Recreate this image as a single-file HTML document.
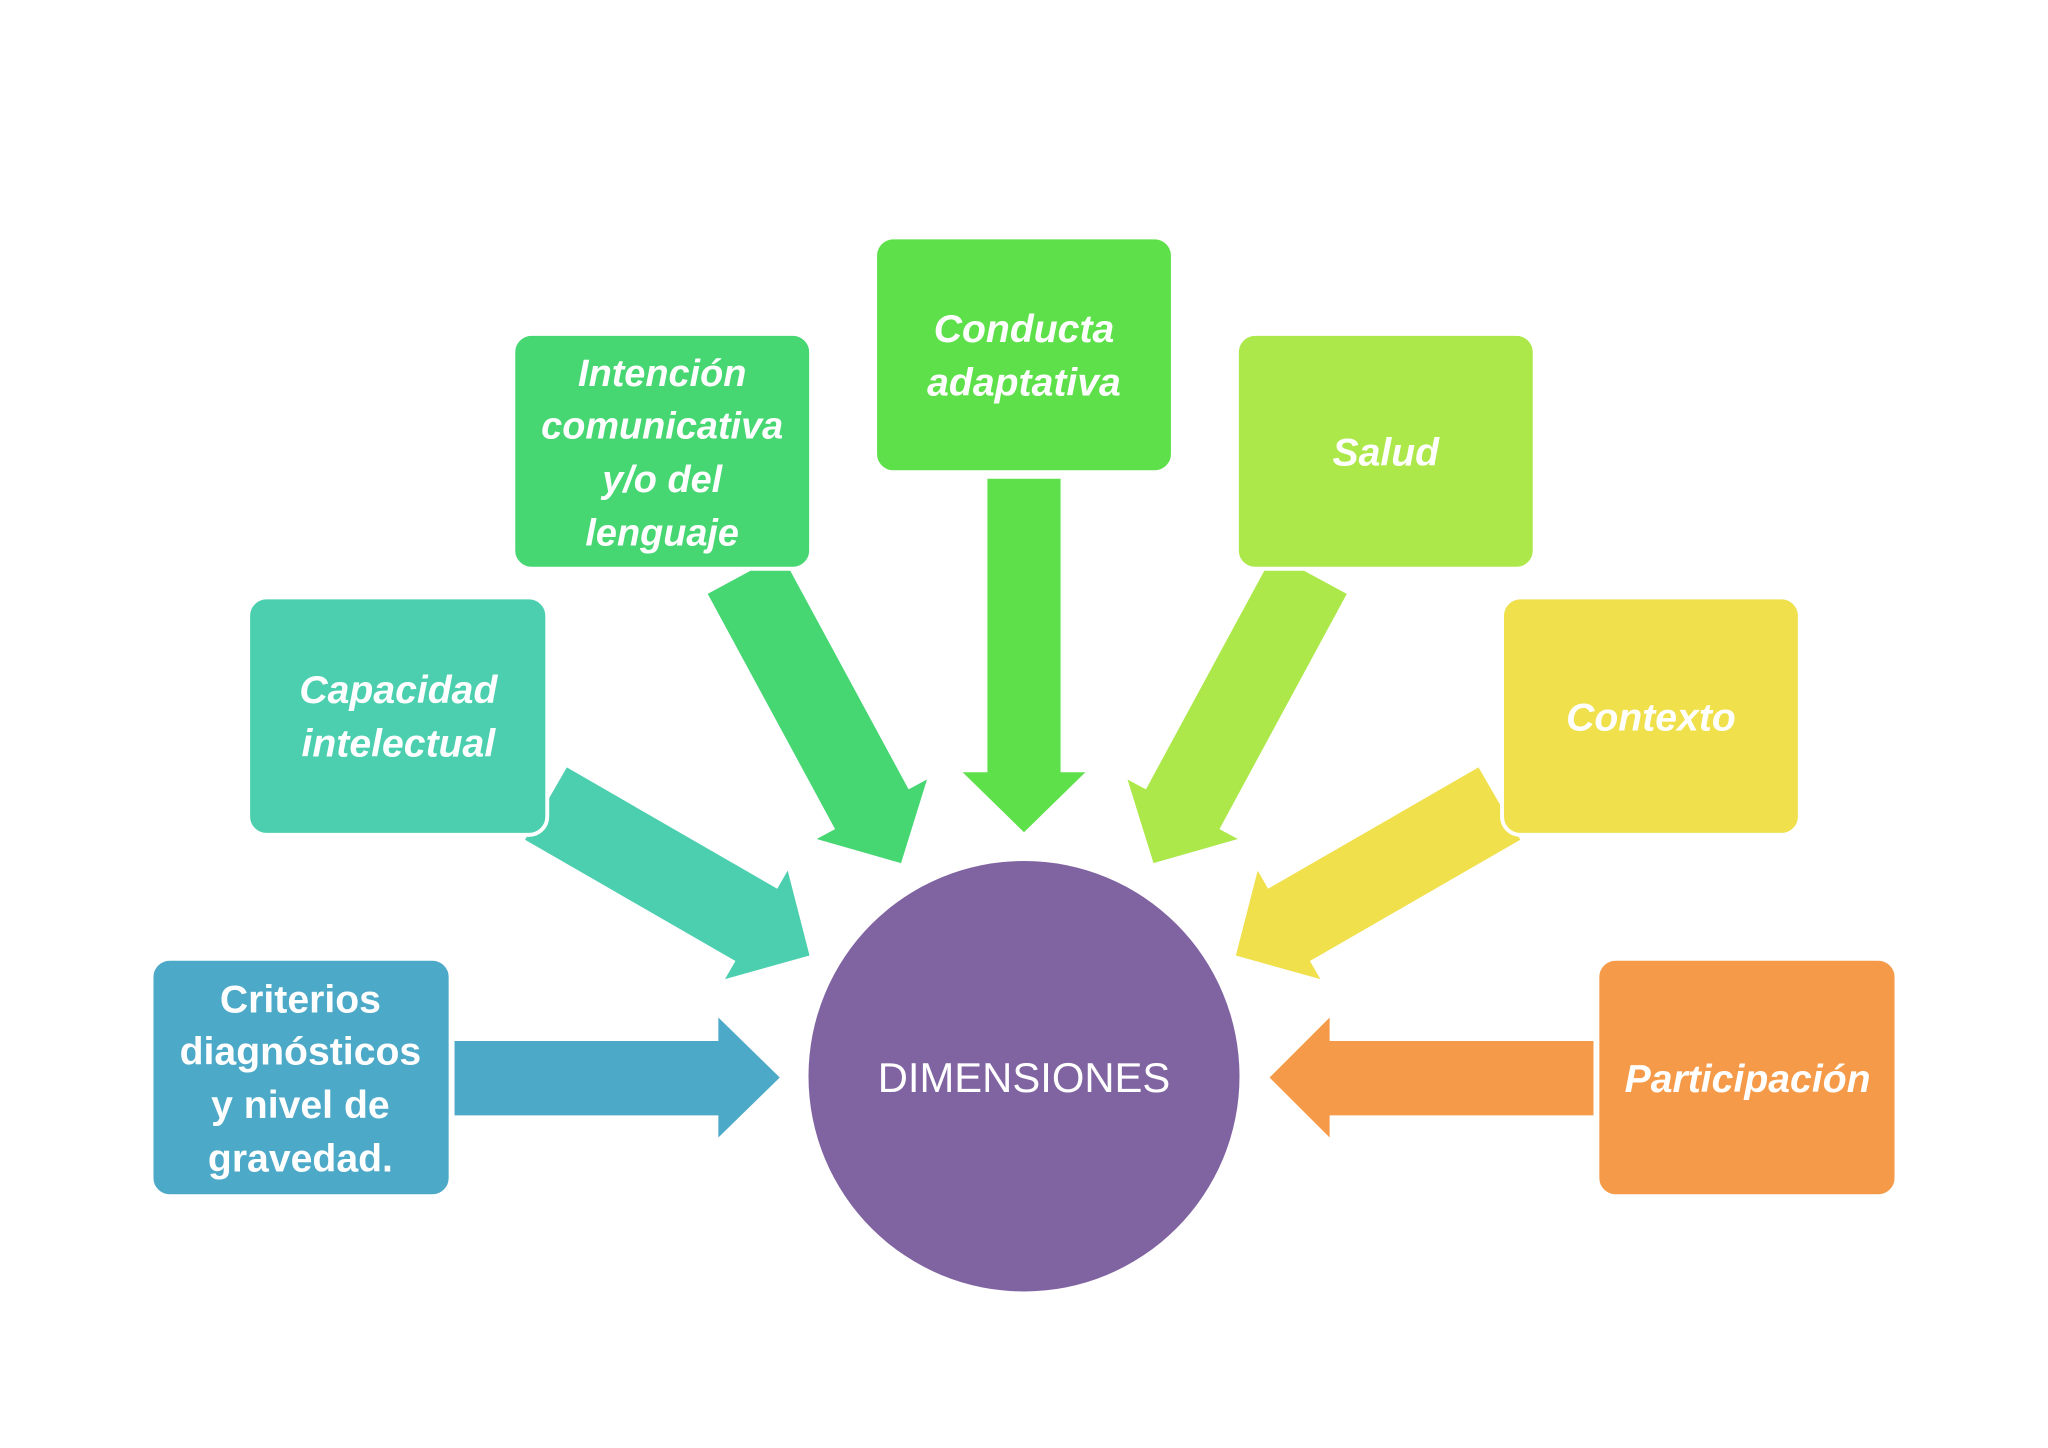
<!DOCTYPE html>
<html><head><meta charset="utf-8"><style>
html,body{margin:0;padding:0;background:#fff;}
svg{display:block;}
text{font-family:"Liberation Sans",sans-serif;fill:#fff;text-anchor:middle;}
.b{font-weight:bold;font-style:italic;font-size:30px;}
.n{font-weight:bold;font-size:30px;}
</style></head><body>
<svg width="2048" height="1448" viewBox="0 0 1568 1110" preserveAspectRatio="none" xmlns="http://www.w3.org/2000/svg">
<!-- arrows -->
<polygon fill="#4DA9C8" points="348,798 550,798 550,780 597,826 550,872 550,855 348,855"/>
<polygon fill="#F59A48" points="1220,798 1018,798 1018,780 972,826 1018,872 1018,855 1220,855"/>
<polygon fill="#5EE04A" points="756,367 812,367 812,592 831,592 784,638 737,592 756,592"/>
<g transform="translate(418,616) rotate(30)"><polygon fill="#4BCFAE" points="0,-32 186,-32 186,-48 233,0 186,48 186,32 0,32"/></g>
<g transform="translate(570,440) rotate(61.6)"><polygon fill="#46D672" points="0,-32 205,-32 205,-48 252,0 205,48 205,32 0,32"/></g>
<g transform="translate(1003,440) rotate(118.4)"><polygon fill="#ACE84A" points="0,-32 205,-32 205,-48 252,0 205,48 205,32 0,32"/></g>
<g transform="translate(1148,616) rotate(150)"><polygon fill="#EFE04C" points="0,-32 186,-32 186,-48 233,0 186,48 186,32 0,32"/></g>
<!-- boxes -->
<g stroke="#fff" stroke-width="3">
<rect x="116" y="735" width="229" height="182" rx="14" fill="#4DA9C8"/>
<rect x="190" y="458" width="229" height="182" rx="14" fill="#4BCFAE"/>
<rect x="393" y="256" width="228" height="180" rx="14" fill="#46D672"/>
<rect x="670" y="182" width="228" height="180" rx="14" fill="#5EE04A"/>
<rect x="947" y="256" width="228" height="180" rx="14" fill="#ACE84A"/>
<rect x="1150" y="458" width="228" height="182" rx="14" fill="#EFE04C"/>
<rect x="1223" y="735" width="229" height="182" rx="14" fill="#F59A48"/>
</g>
<circle cx="784" cy="825" r="165" fill="#8064A2"/>
<!-- text -->
<text class="n" x="230" y="776">Criterios</text>
<text class="n" x="230" y="816">diagnósticos</text>
<text class="n" x="230" y="857">y nivel de</text>
<text class="n" x="230" y="898">gravedad.</text>
<text class="b" x="305" y="539">Capacidad</text>
<text class="b" x="305" y="580">intelectual</text>
<text class="b" x="507" y="296" style="font-size:29px">Intención</text>
<text class="b" x="507" y="336" style="font-size:29px">comunicativa</text>
<text class="b" x="507" y="377" style="font-size:29px">y/o del</text>
<text class="b" x="507" y="418" style="font-size:29px">lenguaje</text>
<text class="b" x="784" y="262">Conducta</text>
<text class="b" x="784" y="303">adaptativa</text>
<text class="b" x="1061" y="357">Salud</text>
<text class="b" x="1264" y="560">Contexto</text>
<text class="b" x="1338" y="837">Participación</text>
<text x="784" y="837" style="font-size:32px">DIMENSIONES</text>
</svg>
</body></html>
